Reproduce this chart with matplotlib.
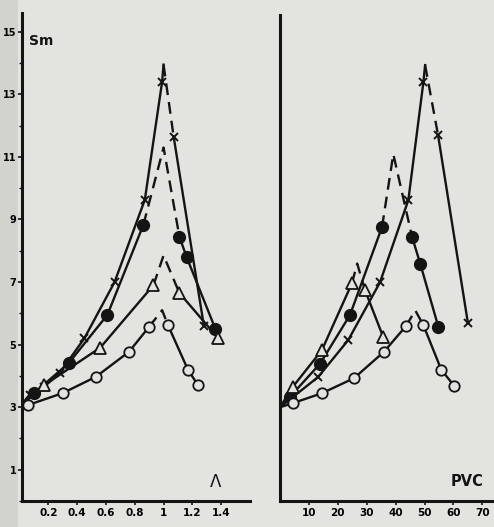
import matplotlib.pyplot as plt
import matplotlib.patches as patches

# ---- data ----
# left panel (x = Lambda)
lam_cross_up_x = [0.07, 0.17, 0.28, 0.45, 0.66, 0.87, 0.99]
lam_cross_up_y = [3.4, 3.65, 4.1, 5.2, 7.0, 9.63, 13.4]
lam_cross_peak = (1.0, 13.95)
lam_cross_down_x = [1.07, 1.28]
lam_cross_down_y = [11.65, 5.6]

lam_dot_up_x = [0.1, 0.34, 0.61, 0.86]
lam_dot_up_y = [3.45, 4.4, 5.95, 8.83]
lam_dot_peak = (1.0, 11.3)
lam_dot_down_x = [1.11, 1.16, 1.36]
lam_dot_down_y = [8.45, 7.8, 5.5]

lam_tri_up_x = [0.17, 0.56, 0.93]
lam_tri_up_y = [3.7, 4.9, 6.9]
lam_tri_peak = (1.0, 7.85)
lam_tri_down_x = [1.11, 1.38]
lam_tri_down_y = [6.65, 5.2]

lam_circ_up_x = [0.06, 0.3, 0.53, 0.76, 0.9]
lam_circ_up_y = [3.07, 3.45, 3.97, 4.77, 5.57]
lam_circ_peak = (0.99, 6.1)
lam_circ_down_x = [1.03, 1.17, 1.24]
lam_circ_down_y = [5.63, 4.19, 3.7]

# right panel (x = PVC)
pvc_cross_up_x = [13.2, 23.6, 34.6, 44.4, 49.6]
pvc_cross_up_y = [3.97, 5.15, 7.0, 9.63, 13.4]
pvc_cross_peak = (50.2, 13.95)
pvc_cross_down_x = [54.7, 65.0]
pvc_cross_down_y = [11.7, 5.7]

pvc_dot_up_x = [3.4, 13.9, 24.2, 35.3]
pvc_dot_up_y = [3.33, 4.4, 5.95, 8.77]
pvc_dot_peak = (39.2, 11.1)
pvc_dot_down_x = [45.7, 48.5, 54.8]
pvc_dot_down_y = [8.45, 7.6, 5.57]

pvc_tri_up_x = [4.4, 14.5, 24.9]
pvc_tri_up_y = [3.65, 4.83, 6.97]
pvc_tri_peak = (26.7, 7.6)
pvc_tri_down_x = [29.4, 35.7]
pvc_tri_down_y = [6.75, 5.25]

pvc_circ_up_x = [4.4, 14.5, 25.6, 35.9, 43.6]
pvc_circ_up_y = [3.13, 3.45, 3.93, 4.77, 5.6]
pvc_circ_peak = (46.8, 6.1)
pvc_circ_down_x = [49.6, 55.8, 60.3]
pvc_circ_down_y = [5.63, 4.2, 3.68]

start_y = 3.0
lam_ticks = [0.2, 0.4, 0.6, 0.8, 1.0, 1.2, 1.4]
lam_ticklabels = ['0.2', '0.4', '0.6', '0.8', '1', '1.2', '1.4']
pvc_ticks = [10, 20, 30, 40, 50, 60, 70]
y_ticks = [1, 3, 5, 7, 9, 11, 13, 15]

INK = '#141414'
BG = '#e3e3df'


def draw_curve(ax, up_x, up_y, peak, down_x, down_y, style, solid_to_peak=False):
    # solid rising branch from the common origin (0, 3)
    xs = [0] + up_x
    ys = [start_y] + up_y
    if solid_to_peak:
        xs = xs + [peak[0]]
        ys = ys + [peak[1]]
        dash_x = [peak[0], down_x[0]]
        dash_y = [peak[1], down_y[0]]
    else:
        dash_x = [up_x[-1], peak[0], down_x[0]]
        dash_y = [up_y[-1], peak[1], down_y[0]]
    ax.plot(xs, ys, color=INK, lw=1.7, zorder=2)
    ax.plot(dash_x, dash_y, color=INK, lw=1.7, dashes=(5, 3), zorder=2)
    ax.plot(down_x, down_y, color=INK, lw=1.7, zorder=2)
    mx = up_x + down_x
    my = up_y + down_y
    if style == 'x':
        ax.plot(mx, my, 'x', color=INK, ms=5.5, mew=1.4, ls='none', zorder=3)
    elif style == 'dot':
        ax.plot(mx, my, 'o', color=INK, ms=8.5, ls='none', zorder=3)
    elif style == 'tri':
        ax.plot(mx, my, '^', mfc=BG, mec=INK, ms=8, mew=1.3, ls='none', zorder=3)
    else:
        ax.plot(mx, my, 'o', mfc=BG, mec=INK, ms=7.5, mew=1.3, ls='none', zorder=3)


fig = plt.figure(figsize=(4.94, 5.27), dpi=100)
fig.patch.set_facecolor(BG)
fig.patches.append(patches.Rectangle((0, 0), 0.036, 1, transform=fig.transFigure,
                                     facecolor='#d3d3ce', edgecolor='none', zorder=-1))

ax1 = fig.add_axes([0.0445, 0.0493, 0.4615, 0.926])
ax2 = fig.add_axes([0.5668, 0.0493, 0.433, 0.922])

for ax in (ax1, ax2):
    ax.set_facecolor('none')
    for s in ('top', 'right'):
        ax.spines[s].set_visible(False)
    for s in ('left', 'bottom'):
        ax.spines[s].set_linewidth(2.2)
        ax.spines[s].set_color(INK)
    ax.tick_params(direction='out', length=3, width=1.2, color=INK,
                   labelsize=7.5, pad=2)

draw_curve(ax1, lam_cross_up_x, lam_cross_up_y, lam_cross_peak,
           lam_cross_down_x, lam_cross_down_y, 'x', solid_to_peak=True)
draw_curve(ax1, lam_dot_up_x, lam_dot_up_y, lam_dot_peak,
           lam_dot_down_x, lam_dot_down_y, 'dot')
draw_curve(ax1, lam_tri_up_x, lam_tri_up_y, lam_tri_peak,
           lam_tri_down_x, lam_tri_down_y, 'tri')
draw_curve(ax1, lam_circ_up_x, lam_circ_up_y, lam_circ_peak,
           lam_circ_down_x, lam_circ_down_y, 'circ')

draw_curve(ax2, pvc_cross_up_x, pvc_cross_up_y, pvc_cross_peak,
           pvc_cross_down_x, pvc_cross_down_y, 'x', solid_to_peak=True)
draw_curve(ax2, pvc_dot_up_x, pvc_dot_up_y, pvc_dot_peak,
           pvc_dot_down_x, pvc_dot_down_y, 'dot')
draw_curve(ax2, pvc_tri_up_x, pvc_tri_up_y, pvc_tri_peak,
           pvc_tri_down_x, pvc_tri_down_y, 'tri')
draw_curve(ax2, pvc_circ_up_x, pvc_circ_up_y, pvc_circ_peak,
           pvc_circ_down_x, pvc_circ_down_y, 'circ')

ax1.set_xlim(0.017, 1.6)
ax1.set_ylim(0, 15.6)
ax1.set_xticks(lam_ticks)
ax1.set_xticklabels(lam_ticklabels, fontweight='bold')
ax1.set_yticks(y_ticks)
ax1.set_yticklabels([str(v) for v in y_ticks], fontweight='bold', fontsize=7)
ax1.set_yticks(range(0, 16), minor=True)
ax1.tick_params(which='minor', length=2, width=1.0, color=INK)
ax1.tick_params(axis='y', pad=1)

ax2.set_xlim(0, 74)
ax2.set_ylim(0, 15.55)
ax2.set_xticks(pvc_ticks)
ax2.set_xticklabels([str(v) for v in pvc_ticks], fontweight='bold')
ax2.set_yticks([])

ax1.text(0.15, 14.7, 'Sm', fontsize=10, fontweight='bold', color=INK,
         ha='center', va='center')
ax1.text(1.36, 0.6, 'Λ', fontsize=12, color=INK, ha='center', va='center')
ax2.text(64.8, 0.64, 'PVC', fontsize=10.5, fontweight='bold', color=INK,
         ha='center', va='center')

fig.savefig('out.png', dpi=100, facecolor=fig.get_facecolor())
